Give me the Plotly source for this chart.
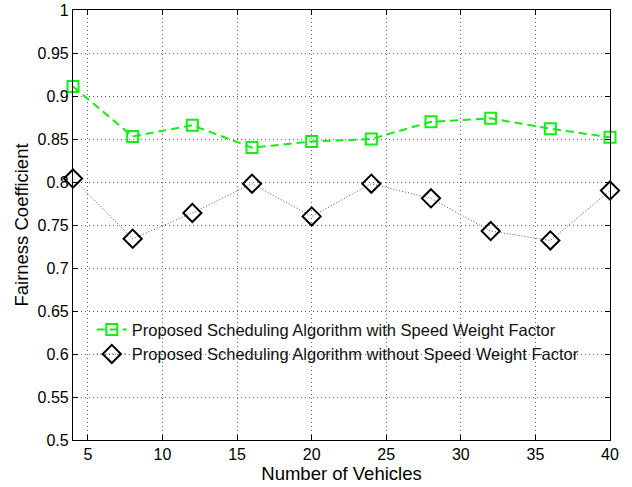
import plotly.graph_objects as go

vehicles = [4, 8, 12, 16, 20, 24, 28, 32, 36, 40]
with_speed = [0.911, 0.853, 0.866, 0.840, 0.847, 0.850, 0.870, 0.874, 0.862, 0.852]
without_speed = [0.804, 0.734, 0.764, 0.798, 0.760, 0.798, 0.781, 0.743, 0.732, 0.790]
name_with = "Proposed Scheduling Algorithm with Speed Weight Factor"
name_without = "Proposed Scheduling Algorithm without Speed Weight Factor"
x_ticks = [5, 10, 15, 20, 25, 30, 35, 40]
y_ticks = [0.5, 0.55, 0.6, 0.65, 0.7, 0.75, 0.8, 0.85, 0.9, 0.95, 1.0]
y_ticktext = ["0.5", "0.55", "0.6", "0.65", "0.7", "0.75", "0.8", "0.85", "0.9", "0.95", "1"]

FONT = "Liberation Sans, Arial, Helvetica, sans-serif"
GREEN = "#11ee11"

fig = go.Figure()
fig.add_trace(go.Scatter(
    x=vehicles, y=with_speed, name=name_with, mode="lines+markers",
    line=dict(color=GREEN, width=2, dash="8px,5px"),
    marker=dict(symbol="square-open", size=11, color=GREEN, line=dict(width=2, color=GREEN)),
    cliponaxis=False,
))
fig.add_trace(go.Scatter(
    x=vehicles, y=without_speed, name=name_without, mode="lines+markers",
    line=dict(color="#555555", width=1, dash="1px,2px"),
    marker=dict(symbol="diamond-open", size=14, color="black", line=dict(width=2, color="black")),
    cliponaxis=False,
))

axis_common = dict(
    showline=True, linecolor="black", linewidth=1.2, mirror="ticks",
    ticks="inside", ticklen=5, tickcolor="black", automargin=False,
    showgrid=True, gridcolor="#666666", gridwidth=1, griddash="1px,3px",
    zeroline=False, tickfont=dict(family=FONT, size=16, color="black"),
)

fig.update_layout(
    width=632, height=487,
    margin=dict(l=73, r=22, t=10, b=47, autoexpand=False),
    paper_bgcolor="white", plot_bgcolor="white",
    font=dict(family=FONT, size=16, color="black"),
    xaxis=dict(range=[4, 40], tickvals=x_ticks,
               title=dict(text="Number of Vehicles", font=dict(family=FONT, size=18.5), standoff=2),
               **axis_common),
    yaxis=dict(range=[0.5, 1.0], tickvals=y_ticks, ticktext=y_ticktext,
               title=dict(text="Fairness Coefficient", font=dict(family=FONT, size=18.5), standoff=4),
               **axis_common),
    legend=dict(x=0.035, y=0.297, xanchor="left", yanchor="top",
                bgcolor="rgba(255,255,255,0)", borderwidth=0,
                font=dict(family=FONT, size=16.5, color="#111111"),
                tracegroupgap=0),
    showlegend=True,
    shapes=[dict(type="rect", xref="paper", yref="paper", x0=0.003, x1=0.985, y0=0.17, y1=0.295,
                 fillcolor="white", line=dict(width=0), layer="between")],
)

fig.write_html("out.html", config={"displayModeBar": False},
               post_script="document.body.style.margin='0';document.body.style.overflow='hidden';")
